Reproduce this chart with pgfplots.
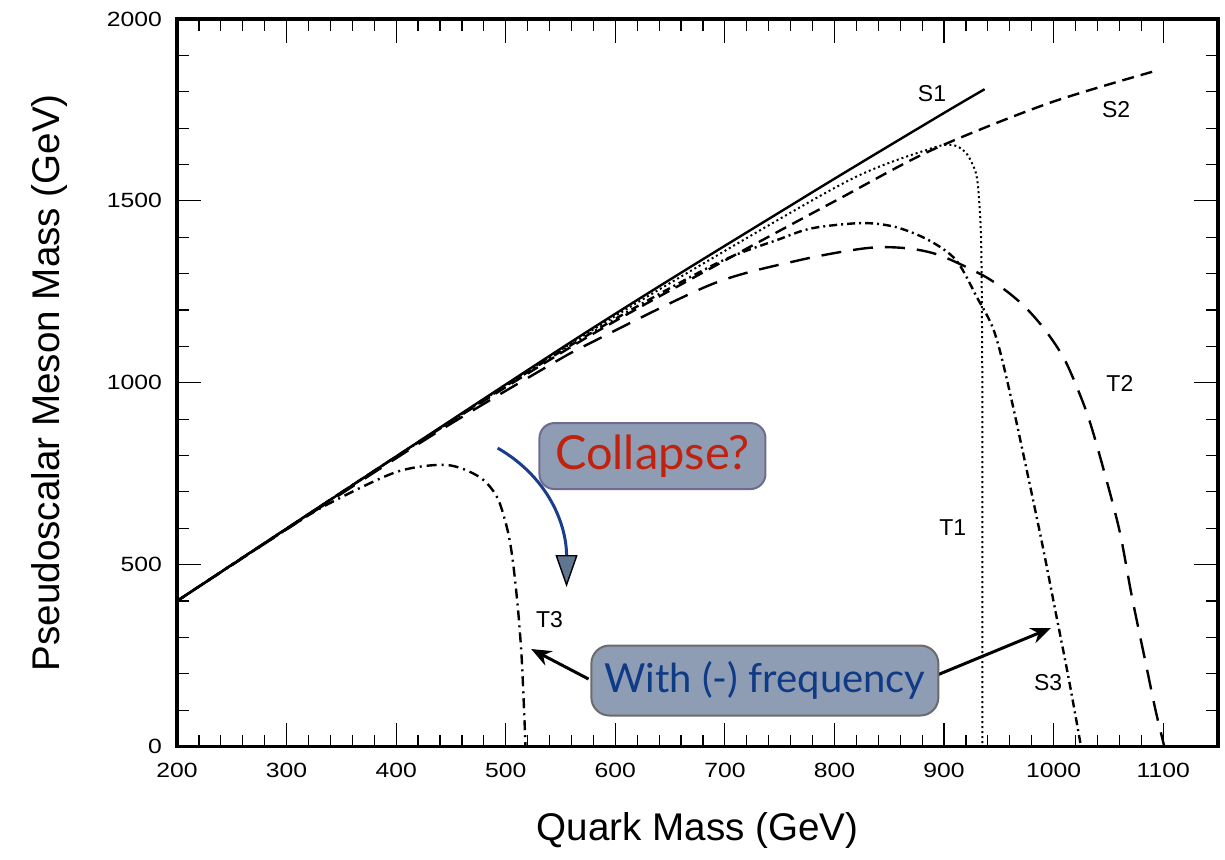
\documentclass[border=0pt]{standalone}
\usepackage{fontspec}
\setmainfont{Liberation Sans}
\newfontfamily\tickfont[FakeStretch=1.2]{Liberation Sans}
\newfontfamily\notefont{Lato}
\usepackage{pgfplots}
\pgfplotsset{compat=1.18}
\usetikzlibrary{calc,arrows.meta}
\definecolor{boxfill}{HTML}{8E9DB4}
\definecolor{collbord}{HTML}{6E6B93}
\definecolor{withbord}{HTML}{6B6B6B}
\definecolor{collred}{HTML}{C0220E}
\definecolor{navy}{HTML}{0F3A86}
\definecolor{arrblue}{HTML}{1B3E8C}
\definecolor{headfill}{HTML}{607590}
\begin{document}
\begin{tikzpicture}
\begin{axis}[
  scale only axis, width=520.5pt, height=363.75pt,
  xmin=200, xmax=1150, ymin=0, ymax=2000,
  xtick={200,300,...,1100}, ytick={0,500,...,2000},
  minor x tick num=4, minor y tick num=4,
  tick align=inside,
  major tick length=12pt, minor tick length=6pt,
  every tick/.style={black, line width=0.6pt},
  axis line style={line width=1.8pt},
  tick label style={font=\tickfont\fontsize{10.3}{12}\selectfont},
  /pgf/number format/assume math mode=true,
  /pgf/number format/1000 sep={},
  yticklabel style={xshift=-4pt},
  xticklabel style={yshift=-5pt},
  clip=false,
  every axis plot/.append style={line width=1.2pt, black},
]
\coordinate (ll) at (rel axis cs:0,0);
% S1 solid
\addplot[smooth] coordinates {(200,400) (558,1109) (768,1502) (889,1722) (937,1807)};
% S2 short dashed
\addplot[smooth, dash pattern=on 6pt off 3.5pt] coordinates {(200,400) (400,797) (567,1112) (689,1318) (802,1502) (889,1640) (996,1769) (1096,1860)};
% T1 dotted
\addplot[smooth, line width=1pt, dash pattern=on 1pt off 1.5pt] coordinates {(200,400) (400,797) (567,1122) (677,1322) (813.5,1557) (886,1642) (907,1654) (920,1632) (929,1577) (932,1502) (934,1365) (935,952) (935,500) (935,0)};
% S3 dash-dot
\addplot[smooth, dash pattern=on 4pt off 2pt on 1pt off 2pt] coordinates {(200,400) (400,797) (567,1117) (689,1323) (750,1395) (780,1425) (825,1439) (856,1428) (886,1392) (911,1337) (930,1235) (946,1139) (961,961) (987,595) (1002,367) (1014,183) (1025,0)};
% T2 long dashed
\addplot[smooth, dash pattern=on 10pt off 6pt] coordinates {(200,400) (421.5,834) (537,1043) (579,1112) (689,1272) (768,1337) (829,1370) (865,1370) (895.5,1351) (935,1296) (957,1252) (975,1205) (993,1142) (1011,1058) (1030,920) (1044,779) (1060,595) (1071.5,411) (1084,230) (1093,100) (1101,0)};
% T3 dash-dot
\addplot[smooth, dash pattern=on 5pt off 2.5pt on 1pt off 2.5pt] coordinates {(200,400) (303,603) (339.5,669) (400.5,755) (446,774) (476,741) (492,686) (501,603) (506,521) (511,384) (514.5,246) (517,81) (518,0)};

\node[font=\fontsize{11.5}{13}\selectfont] at (889,1795) {S1};
\node[font=\fontsize{11.5}{13}\selectfont] at (1057,1750) {S2};
\node[font=\fontsize{11.5}{13}\selectfont] at (1060.5,999) {T2};
\node[font=\fontsize{11.5}{13}\selectfont] at (908,603) {T1};
\node[font=\fontsize{11.5}{13}\selectfont] at (540,348) {T3};
\node[font=\fontsize{11.5}{13}\selectfont] at (995,174.5) {S3};

\draw[arrblue, line width=1.5pt, -{Triangle[length=16pt,width=11pt,color=black,fill=headfill,line width=0.7pt]}] (492.6,820.5) to[out=-30,in=90] (555.5,438.4);
\node[draw=collbord, line width=1pt, fill=boxfill, rounded corners=7.5pt, minimum width=113pt, minimum height=33pt, inner sep=0pt, text=collred, font=\notefont\fontsize{23.5}{26}\selectfont] at (633.9,798.5) {Collapse?};

\draw[line width=1.5pt, -{Stealth[length=10pt,width=8pt]}] (575.6,185.5) -- (523.2,268);
\draw[line width=1.5pt, -{Stealth[length=10pt,width=8pt]}] (893.7,196.5) -- (997.6,325.7);
\node[draw=withbord, line width=1pt, fill=boxfill, rounded corners=9pt, minimum width=173.5pt, minimum height=35pt, inner sep=0pt, text=navy, font=\notefont\fontsize{20}{24}\selectfont] at (736.5,181.4) {With (-) frequency};
\end{axis}
\node[font=\fontsize{19.3}{22}\selectfont] at ($(ll)+(260.25pt,-41.75pt)$) {Quark Mass (GeV)};
\node[rotate=90, font=\fontsize{19.3}{22}\selectfont] at ($(ll)+(-63.5pt,181.9pt)$) {Pseudoscalar Meson Mass (GeV)};
\pgfresetboundingbox
\path[use as bounding box] ($(ll)+(-88.5pt,-56.25pt)$) rectangle ($(ll)+(524pt,373.25pt)$);
\end{tikzpicture}
\end{document}
